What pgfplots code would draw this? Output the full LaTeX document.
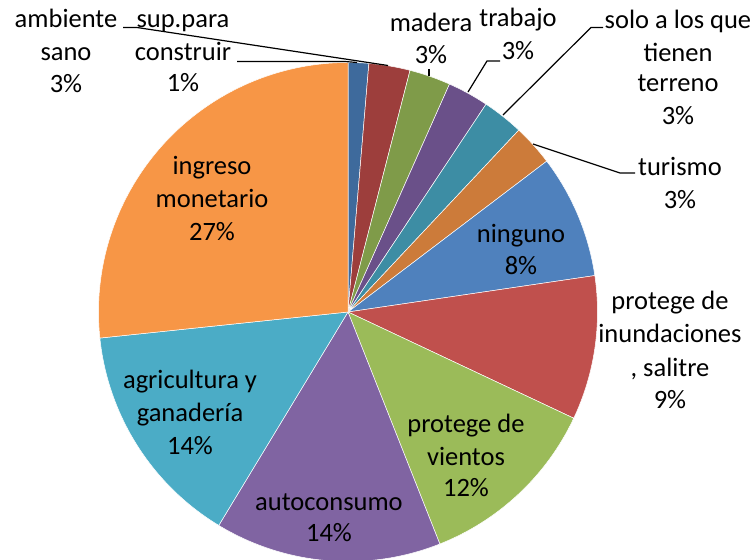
\documentclass[border=0pt]{standalone}
\usepackage{pgfplots}
\pgfplotsset{compat=1.18}
\usepackage{pgfplotstable}
\usepackage{fontspec}
\setmainfont{Carlito}

\definecolor{dblue}{HTML}{3E6A9C}
\definecolor{dred}{HTML}{9D3E3C}
\definecolor{dgreen}{HTML}{7F9B49}
\definecolor{dpurple}{HTML}{6A5089}
\definecolor{dteal}{HTML}{3D8DA4}
\definecolor{dorange}{HTML}{CC7B3A}
\definecolor{xblue}{HTML}{4F81BD}
\definecolor{xred}{HTML}{C0504D}
\definecolor{xgreen}{HTML}{9BBB59}
\definecolor{xpurple}{HTML}{8064A2}
\definecolor{xteal}{HTML}{4BACC6}
\definecolor{xorange}{HTML}{F79646}

\tikzset{lbl/.style={font=\fontsize{26.5bp}{33bp}\selectfont,inner sep=0pt,anchor=base}}

% counts (share of 75 answers), clockwise from the top
\pgfplotstableread{
item value col
supparaconstruir 1 dblue
ambientesano 2 dred
madera 2 dgreen
trabajo 2 dpurple
soloterreno 2 dteal
turismo 2 dorange
ninguno 6 xblue
protegeinund 7 xred
protegevientos 9 xgreen
autoconsumo 11 xpurple
agricultura 11 xteal
ingreso 20 xorange
}\piedata

\begin{document}
\begin{tikzpicture}
\begin{axis}[x=1bp,y=1bp,xmin=0,xmax=756,ymin=0,ymax=560,
  hide axis,clip=false,anchor=south west,at={(0,0)}]
\def\cumsum{0}
\pgfplotsforeachungrouped \i in {0,...,11}{%
  \pgfplotstablegetelem{\i}{value}\of\piedata \let\slval\pgfplotsretval
  \pgfplotstablegetelem{\i}{col}\of\piedata \let\slcol\pgfplotsretval
  \pgfmathsetmacro\angA{90-4.8*\cumsum}%
  \pgfmathsetmacro\cumsum{\cumsum+\slval}%
  \pgfmathsetmacro\angB{90-4.8*\cumsum}%
  \edef\temp{\noexpand\fill[\slcol,draw=white,line width=0.5bp]
    (axis cs:348,248) -- ++(\angA:249.5bp)
    arc[start angle=\angA,end angle=\angB,radius=249.5bp] -- cycle;}%
  \temp
}
% leader lines
\draw[black,line width=1.2bp] (axis cs:123,532.5) -- (axis cs:137,532.5) -- (axis cs:388,494.5);
\draw[black,line width=1.2bp] (axis cs:237,498.5) -- (axis cs:345,498.5) -- (axis cs:357,497.5);
\draw[black,line width=1.2bp] (axis cs:429,491) -- (axis cs:429,484);
\draw[black,line width=1.2bp] (axis cs:500,499) -- (axis cs:487,499) -- (axis cs:468,468);
\draw[black,line width=1.2bp] (axis cs:603,532.5) -- (axis cs:591,532.5) -- (axis cs:503,445);
\draw[black,line width=1.2bp] (axis cs:533,416) -- (axis cs:620,387) -- (axis cs:635,387);
% labels (baselines)
\node[lbl] at (axis cs:66,532.7) {ambiente};
\node[lbl] at (axis cs:66,499.5) {sano};
\node[lbl] at (axis cs:66,467) {3\%};
\node[lbl] at (axis cs:183,532.7) {sup.para};
\node[lbl] at (axis cs:183,499.3) {construir};
\node[lbl] at (axis cs:183,468.3) {1\%};
\node[lbl] at (axis cs:431,528.3) {madera};
\node[lbl] at (axis cs:431,496.7) {3\%};
\node[lbl] at (axis cs:518,533.3) {trabajo};
\node[lbl] at (axis cs:518,500) {3\%};
\node[lbl] at (axis cs:678,531.7) {solo a los que};
\node[lbl] at (axis cs:678,498.3) {tienen};
\node[lbl] at (axis cs:678,468.3) {terreno};
\node[lbl] at (axis cs:678,435) {3\%};
\node[lbl] at (axis cs:680,384.3) {turismo};
\node[lbl] at (axis cs:680,352) {3\%};
\node[lbl] at (axis cs:521,317.3) {ninguno};
\node[lbl] at (axis cs:521,286) {8\%};
\node[lbl] at (axis cs:670,251) {protege de};
\node[lbl] at (axis cs:670,217.3) {inundaciones};
\node[lbl] at (axis cs:670,184) {, salitre};
\node[lbl] at (axis cs:670,152) {9\%};
\node[lbl] at (axis cs:466,127.3) {protege de};
\node[lbl] at (axis cs:466,95) {vientos};
\node[lbl] at (axis cs:466,63.3) {12\%};
\node[lbl] at (axis cs:329,49.3) {autoconsumo};
\node[lbl] at (axis cs:329,18.3) {14\%};
\node[lbl] at (axis cs:190,171.7) {agricultura y};
\node[lbl] at (axis cs:190,138.3) {ganadería};
\node[lbl] at (axis cs:190,106) {14\%};
\node[lbl] at (axis cs:212,385.7) {ingreso};
\node[lbl] at (axis cs:212,352.3) {monetario};
\node[lbl] at (axis cs:212,320) {27\%};
\end{axis}
\pgfresetboundingbox
\useasboundingbox (0,0) rectangle (756bp,560bp);
\end{tikzpicture}
\end{document}
